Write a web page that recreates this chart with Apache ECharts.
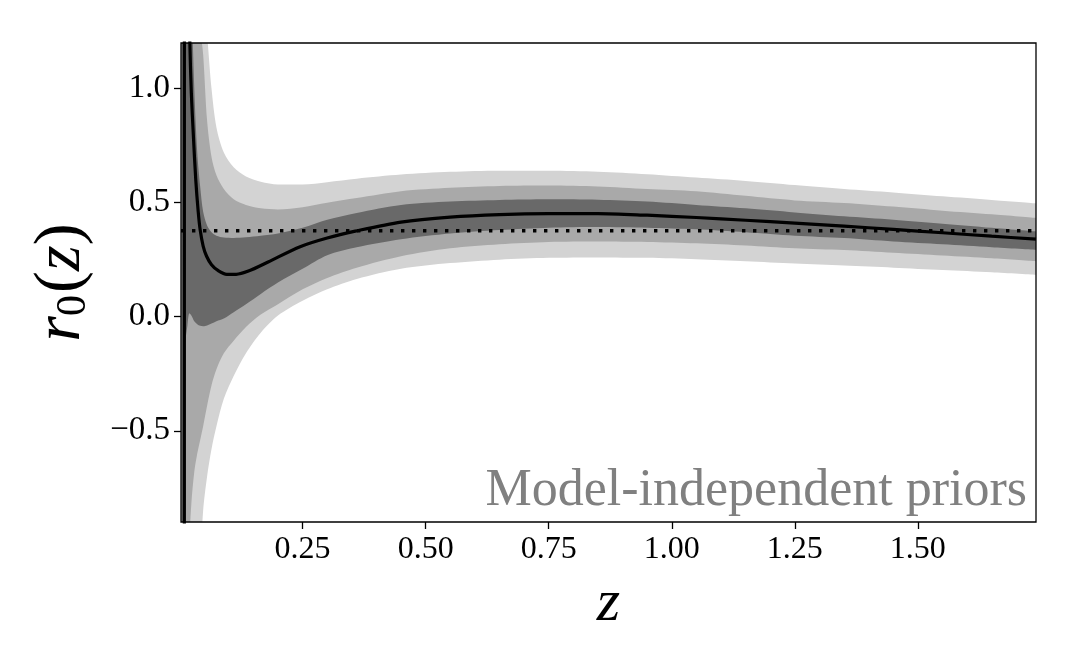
<!DOCTYPE html>
<html>
<head>
<meta charset="utf-8">
<script src="https://cdn.jsdelivr.net/npm/echarts@6/dist/echarts.min.js"></script>
<style>
  html, body { margin: 0; padding: 0; background: #fff; }
  #chart { width: 1080px; height: 668px; }
</style>
</head>
<body>
<div id="chart"></div>
<script>
// ---- data ----
const bandZ  = [0.004, 0.01, 0.016, 0.02, 0.024, 0.03, 0.036, 0.042, 0.048, 0.056, 0.065, 0.075, 0.09, 0.11, 0.135, 0.165, 0.2, 0.25, 0.3, 0.36, 0.45, 0.55, 0.65, 0.75, 0.85, 0.95, 1.05, 1.15, 1.25, 1.35, 1.45, 1.55, 1.65, 1.74];
const upper3 = [30, 12, 6, 4.5, 3.5, 2.7, 2.1, 1.7, 1.45, 1.24, 1.0, 0.83, 0.72, 0.655, 0.615, 0.592, 0.58, 0.58, 0.59, 0.605, 0.623, 0.635, 0.64, 0.64, 0.636, 0.625, 0.61, 0.595, 0.577, 0.56, 0.545, 0.528, 0.512, 0.497];
const upper2 = [20, 8, 4, 3, 2.4, 1.9, 1.5, 1.27, 1.15, 0.86, 0.70, 0.62, 0.56, 0.515, 0.49, 0.475, 0.47, 0.48, 0.50, 0.52, 0.55, 0.565, 0.573, 0.575, 0.571, 0.56, 0.55, 0.53, 0.51, 0.499, 0.483, 0.465, 0.449, 0.433];
const upper1 = [15, 6, 3, 2, 1.45, 1.0, 0.72, 0.57, 0.46, 0.40, 0.37, 0.355, 0.347, 0.345, 0.348, 0.355, 0.365, 0.39, 0.425, 0.455, 0.49, 0.505, 0.512, 0.515, 0.513, 0.505, 0.49, 0.475, 0.457, 0.44, 0.425, 0.408, 0.39, 0.374];
const lower1 = [-3, -0.15, -0.04, 0.015, 0.005, -0.02, -0.033, -0.04, -0.042, -0.038, -0.03, -0.02, -0.008, 0.02, 0.055, 0.10, 0.15, 0.21, 0.27, 0.305, 0.34, 0.365, 0.38, 0.39, 0.393, 0.39, 0.383, 0.37, 0.355, 0.345, 0.33, 0.318, 0.305, 0.294];
const lower2 = [-20, -5, -1.8, -1.0, -0.82, -0.68, -0.6, -0.54, -0.48, -0.39, -0.30, -0.23, -0.16, -0.105, -0.045, 0.01, 0.055, 0.12, 0.17, 0.215, 0.265, 0.30, 0.318, 0.328, 0.33, 0.328, 0.322, 0.312, 0.30, 0.292, 0.28, 0.268, 0.256, 0.243];
const lower3 = [-40, -15, -7, -4.5, -3.2, -2.2, -1.6, -1.1, -0.85, -0.7, -0.58, -0.48, -0.36, -0.26, -0.16, -0.07, 0.005, 0.07, 0.12, 0.165, 0.21, 0.235, 0.25, 0.258, 0.26, 0.258, 0.252, 0.243, 0.233, 0.224, 0.215, 0.205, 0.195, 0.184];

const meanZ = [0.0095, 0.0105, 0.012, 0.016, 0.019, 0.021, 0.024, 0.028, 0.033, 0.038, 0.042, 0.048, 0.055, 0.065, 0.078, 0.096, 0.115, 0.14, 0.18, 0.245, 0.3, 0.357, 0.45, 0.55, 0.65, 0.75, 0.85, 0.95, 1.05, 1.15, 1.25, 1.35, 1.45, 1.55, 1.65, 1.74];
const meanV = [-30, 30, 6, 2.6, 1.5, 1.2, 0.98, 0.8, 0.6, 0.46, 0.38, 0.31, 0.265, 0.228, 0.203, 0.186, 0.186, 0.2, 0.24, 0.307, 0.345, 0.375, 0.415, 0.437, 0.448, 0.452, 0.452, 0.445, 0.435, 0.423, 0.41, 0.397, 0.383, 0.368, 0.353, 0.34];

const refZ = [0.003, 1.74];
const refV = [0.377, 0.377];

const xTicks = [0.25, 0.5, 0.75, 1.0, 1.25, 1.5];
const xTickLabels = ['0.25', '0.50', '0.75', '1.00', '1.25', '1.50'];
const yTicks = [-0.5, 0.0, 0.5, 1.0];
const yTickLabels = ['\u22120.5', '0.0', '0.5', '1.0'];

const annotation = 'Model-independent priors';

// ---- colours ----
const C_DARK = '#696969', C_MED = '#a9a9a9', C_LIGHT = '#d3d3d3', C_BG = '#ffffff';
const SERIF = '"Liberation Serif", "DejaVu Serif", serif';

const pairs = (zs, vs) => zs.map((z, i) => [z, vs[i]]);

// Painter's order: each boundary filled down to the axis minimum, outermost first.
function fillDown(name, vals, color, z) {
  return {
    name, type: 'line', data: pairs(bandZ, vals), symbol: 'none',
    smooth: 0.3,
    lineStyle: { width: 0, opacity: 0 },
    areaStyle: { color, opacity: 1, origin: 'start' },
    silent: true, clip: true, z
  };
}

const series = [
  fillDown('upper3', upper3, C_LIGHT, 1),
  fillDown('upper2', upper2, C_MED, 1.1),
  fillDown('upper1', upper1, C_DARK, 1.2),
  fillDown('lower1', lower1, C_MED, 1.3),
  fillDown('lower2', lower2, C_LIGHT, 1.4),
  fillDown('lower3', lower3, C_BG, 1.5),
  {
    name: 'mean', type: 'line', data: pairs(meanZ, meanV), symbol: 'none',
    smooth: 0.3,
    lineStyle: { color: '#000', width: 3.2 }, clip: true, z: 3
  },
  {
    name: 'ref', type: 'line', data: pairs(refZ, refV), symbol: 'none',
    lineStyle: { color: '#000', width: 3.4, type: [3.4, 7.6], cap: 'butt' }, clip: true, z: 4
  }
];

const chart = echarts.init(document.getElementById('chart'), null, { renderer: 'canvas' });
chart.setOption({
  animation: false,
  backgroundColor: '#fff',
  grid: { left: 181, right: 44, top: 43, bottom: 146, show: true, borderColor: '#000', borderWidth: 1.3, backgroundColor: 'transparent', z: 10 },
  xAxis: {
    type: 'value', min: 0.003, max: 1.74,
    splitLine: { show: false }, axisLine: { show: false, onZero: false },
    axisTick: { show: true, length: 7, inside: false, customValues: xTicks, lineStyle: { color: '#000', width: 1.3 } },
    axisLabel: {
      customValues: xTicks, margin: 12, color: '#000', fontFamily: SERIF, fontSize: 32,
      formatter: v => { const i = xTicks.findIndex(t => Math.abs(t - v) < 1e-9); return i >= 0 ? xTickLabels[i] : ''; }
    },
    name: 'z', nameLocation: 'middle', nameGap: 52,
    nameTextStyle: { fontFamily: SERIF, fontStyle: 'italic', fontSize: 60, color: '#000' }
  },
  yAxis: {
    type: 'value', min: -0.9, max: 1.2,
    splitLine: { show: false }, axisLine: { show: false, onZero: false },
    axisTick: { show: true, length: 7, inside: false, customValues: yTicks, lineStyle: { color: '#000', width: 1.3 } },
    axisLabel: {
      customValues: yTicks, margin: 11, color: '#000', fontFamily: SERIF, fontSize: 33,
      formatter: v => { const i = yTicks.findIndex(t => Math.abs(t - v) < 1e-9); return i >= 0 ? yTickLabels[i] : ''; }
    },
    name: '{i|r}{s|0}{n|(}{i|z}{n|)}', nameLocation: 'middle', nameGap: 86, nameRotate: 90,
    nameTextStyle: {
      color: '#000',
      rich: {
        i: { fontFamily: SERIF, fontStyle: 'italic', fontSize: 66, color: '#000', verticalAlign: 'bottom', lineHeight: 74 },
        s: { fontFamily: SERIF, fontSize: 42, color: '#000', verticalAlign: 'bottom', lineHeight: 74, padding: [0, 2, 0, 0] },
        n: { fontFamily: SERIF, fontSize: 66, color: '#000', verticalAlign: 'bottom', lineHeight: 74 }
      }
    }
  },
  graphic: [{
    type: 'text', right: 53, top: 465, z: 20,
    style: { text: annotation, fill: '#808080', font: 'normal 52px "Liberation Serif", serif' }
  }],
  series
});
</script>
</body>
</html>
